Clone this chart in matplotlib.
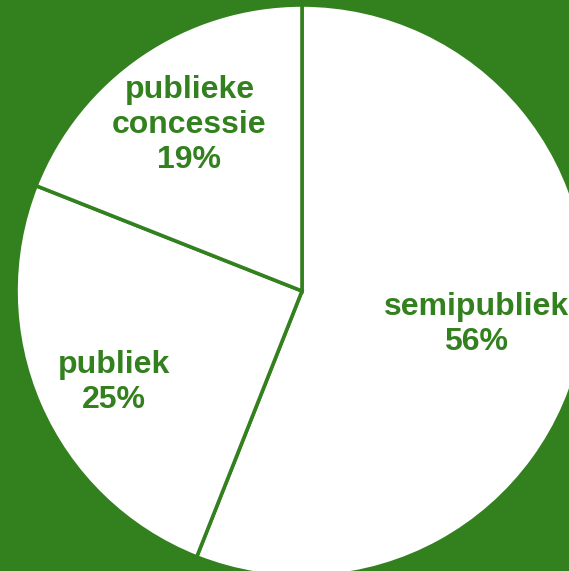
import numpy as np
import matplotlib.pyplot as plt

labels = ['semipubliek', 'publiek', 'publieke\nconcessie']
shares = [56, 25, 19]

green = '#33801f'
W, H = 569, 571

fig = plt.figure(figsize=(W / 100, H / 100), dpi=100, facecolor=green)
ax = fig.add_axes([0, 0, 1, 1])
ax.set_facecolor(green)

cx, cy, R = 302, H - 291, 286
wedges, _ = ax.pie(shares, startangle=90, counterclock=False,
                   center=(cx, cy), radius=R,
                   colors=['white'] * len(shares),
                   wedgeprops=dict(edgecolor=green, linewidth=2.6))

# label distance (fraction of radius) and angle nudge per slice
dist = [0.62, 0.73, 0.70]
nudge = [0, 2.5, 0]
for w, lab, s, d, n in zip(wedges, labels, shares, dist, nudge):
    ang = np.deg2rad((w.theta1 + w.theta2) / 2 + n)
    x = cx + d * R * np.cos(ang)
    y = cy + d * R * np.sin(ang)
    ax.text(x, y, f'{lab}\n{s}%', ha='center', va='center', color=green,
            fontsize=23, fontweight='bold', family='Liberation Sans',
            linespacing=1.22)

ax.set_xlim(0, W)
ax.set_ylim(0, H)
ax.set_aspect('auto')
ax.axis('off')

fig.savefig('out.png', dpi=100, facecolor=green)
